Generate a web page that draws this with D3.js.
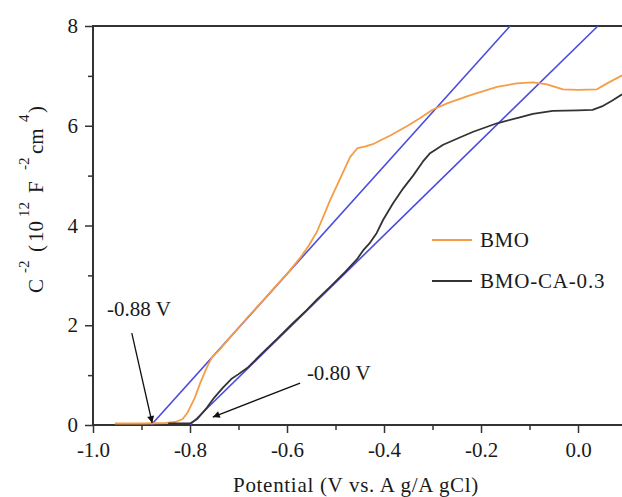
<!DOCTYPE html>
<html>
<head>
<meta charset="utf-8">
<script src="https://cdn.jsdelivr.net/npm/d3@7"></script>
<style>
  html, body { margin: 0; padding: 0; background: #fff; }
  svg { display: block; }
  text { font-family: "Liberation Serif", "Times New Roman", serif; fill: #1a1a1a; }
</style>
</head>
<body>
<svg id="chart" width="622" height="497"></svg>
<script>
// ---- data ----
const bmoV = [-0.955,-0.90,-0.85,-0.83,-0.815,-0.805,-0.79,-0.779,-0.765,-0.755,-0.74,-0.724,-0.70,-0.68,-0.65,-0.62,-0.60,-0.573,-0.555,-0.538,-0.511,-0.49,-0.470,-0.455,-0.44,-0.423,-0.405,-0.388,-0.353,-0.326,-0.30,-0.27,-0.223,-0.167,-0.126,-0.093,-0.064,-0.031,0.0,0.039,0.06,0.091];
const bmoC = [0.03,0.03,0.04,0.06,0.12,0.25,0.55,0.84,1.16,1.35,1.5,1.68,1.95,2.17,2.49,2.82,3.03,3.35,3.6,3.88,4.51,4.95,5.37,5.55,5.58,5.63,5.72,5.80,5.99,6.15,6.32,6.45,6.61,6.78,6.85,6.87,6.83,6.73,6.72,6.73,6.85,7.01];

const caV = [-0.845,-0.80,-0.785,-0.765,-0.75,-0.732,-0.715,-0.70,-0.68,-0.65,-0.62,-0.59,-0.56,-0.538,-0.51,-0.48,-0.456,-0.443,-0.43,-0.415,-0.402,-0.381,-0.36,-0.34,-0.32,-0.305,-0.278,-0.245,-0.216,-0.167,-0.12,-0.093,-0.052,0.0,0.03,0.052,0.07,0.091];
const caC = [0.03,0.03,0.12,0.35,0.55,0.75,0.92,1.02,1.16,1.45,1.73,2.02,2.30,2.52,2.78,3.07,3.32,3.5,3.64,3.85,4.11,4.45,4.75,5.0,5.28,5.45,5.62,5.76,5.88,6.05,6.17,6.24,6.3,6.31,6.32,6.4,6.5,6.63];

// linear fits (intercept on x-axis, point at top of plot)
const fit1V = [-0.88, -0.14];
const fit1C = [0, 8];
const fit2V = [-0.80, 0.041];
const fit2C = [0, 8];

const xTicks = [-1.0, -0.8, -0.6, -0.4, -0.2, 0.0];
const xTickLabels = ["-1.0", "-0.8", "-0.6", "-0.4", "-0.2", "0.0"];
const xMinor = [-0.9, -0.7, -0.5, -0.3, -0.1];
const yTicks = [0, 2, 4, 6, 8];
const yMinor = [1, 3, 5, 7];

const seriesNames = ["BMO", "BMO-CA-0.3"];
const seriesColors = ["#f59d45", "#333333"];
const fitColor = "#4b4bdc";

// annotations in data units
const annoLabels = ["-0.88 V", "-0.80 V"];
const annoText = [[-0.971, 2.18], [-0.559, 0.90]];
const annoArrow = [[[-0.920, 1.84], [-0.878, 0.04]], [[-0.573, 0.84], [-0.753, 0.16]]];

// y-axis title pieces: [text, superscript?, offset along the axis]
const yTitleParts = [["C", 0, 0], ["-2", 1, 20], ["(", 0, 41], ["10", 0, 51], ["12", 1, 76], ["F", 0, 100], ["-2", 1, 123], ["cm", 0, 139], ["4", 1, 171], [")", 0, 180]];

// ---- layout ----
const svg = d3.select("#chart");
const L = 93, R = 622, T = 26, B = 425;
const x = d3.scaleLinear().domain([-1.0, 0.0907]).range([L, R]);
const y = d3.scaleLinear().domain([0, 8]).range([B, T]);

const defs = svg.append("defs");
defs.append("clipPath").attr("id", "clip")
  .append("rect").attr("x", L).attr("y", T - 1).attr("width", R - L).attr("height", B - T + 2);
defs.append("marker").attr("id", "arrow").attr("viewBox", "0 0 10 10")
  .attr("refX", 10).attr("refY", 5).attr("markerWidth", 11).attr("markerHeight", 7)
  .attr("markerUnits", "userSpaceOnUse").attr("orient", "auto")
  .append("path").attr("d", "M0,0 L10,5 L0,10 Z").attr("fill", "#111");

const line = d3.line().x(d => x(d[0])).y(d => y(d[1]));

// axes
const axisColor = "#333";
const xa = svg.append("g").attr("transform", `translate(0,${B})`)
  .call(d3.axisBottom(x).tickValues(xTicks).tickFormat((d, i) => xTickLabels[i]).tickSize(8).tickSizeOuter(0));
xa.select(".domain").remove();
xa.selectAll(".tick line").attr("stroke", axisColor).attr("stroke-width", 1.5);
xa.selectAll(".tick text").attr("font-family", "Liberation Serif").attr("font-size", 21).attr("fill", "#1a1a1a").attr("dy", "0.85em").attr("y", 14);

const xm = svg.append("g").attr("transform", `translate(0,${B})`)
  .call(d3.axisBottom(x).tickValues(xMinor).tickFormat("").tickSize(5).tickSizeOuter(0));
xm.select(".domain").remove();
xm.selectAll(".tick line").attr("stroke", axisColor).attr("stroke-width", 1.5);

const ya = svg.append("g").attr("transform", `translate(${L},0)`)
  .call(d3.axisLeft(y).tickValues(yTicks).tickFormat(d3.format("d")).tickSize(8).tickSizeOuter(0));
ya.select(".domain").remove();
ya.selectAll(".tick line").attr("stroke", axisColor).attr("stroke-width", 1.5);
ya.selectAll(".tick text").attr("font-family", "Liberation Serif").attr("font-size", 21).attr("fill", "#1a1a1a").attr("x", -15);

const ym = svg.append("g").attr("transform", `translate(${L},0)`)
  .call(d3.axisLeft(y).tickValues(yMinor).tickFormat("").tickSize(5).tickSizeOuter(0));
ym.select(".domain").remove();
ym.selectAll(".tick line").attr("stroke", axisColor).attr("stroke-width", 1.5);

// frame lines
svg.append("line").attr("x1", L).attr("x2", R).attr("y1", B).attr("y2", B).attr("stroke", axisColor).attr("stroke-width", 2);
svg.append("line").attr("x1", L).attr("x2", R).attr("y1", T).attr("y2", T).attr("stroke", axisColor).attr("stroke-width", 2);
svg.append("line").attr("x1", L).attr("x2", L).attr("y1", T - 1).attr("y2", B + 1).attr("stroke", axisColor).attr("stroke-width", 2);

// plot content (over the axis lines)
const g = svg.append("g").attr("clip-path", "url(#clip)");
[[fit1V, fit1C], [fit2V, fit2C]].forEach(([vs, cs]) => {
  g.append("path").datum(vs.map((v, i) => [v, cs[i]]))
    .attr("d", line).attr("fill", "none").attr("stroke", fitColor).attr("stroke-width", 1.6);
});
[[bmoV, bmoC], [caV, caC]].forEach(([vs, cs], k) => {
  g.append("path").datum(vs.map((v, i) => [v, cs[i]]))
    .attr("d", line).attr("fill", "none").attr("stroke", seriesColors[k])
    .attr("stroke-width", 1.8).attr("stroke-linejoin", "round");
});

// axis titles
svg.append("text").attr("x", 233).attr("y", 492).attr("font-size", 21)
  .attr("letter-spacing", 0.7)
  .text("Potential (V vs. A g/A gCl)");

const yt = svg.append("text").attr("transform", "translate(43,293) rotate(-90)");
yTitleParts.forEach(([t, sup, off]) => {
  yt.append("tspan").attr("x", off).attr("y", sup ? -14 : 0)
    .attr("font-size", sup ? 15 : 21).text(t);
});

// legend
const legY = [240, 281];
seriesNames.forEach((n, i) => {
  svg.append("line").attr("x1", 432).attr("x2", 472).attr("y1", legY[i]).attr("y2", legY[i])
    .attr("stroke", seriesColors[i]).attr("stroke-width", 1.8);
  svg.append("text").attr("x", 480).attr("y", legY[i] + 7).attr("font-size", 21)
    .attr("letter-spacing", i === 1 ? 0.8 : 0.5).text(n);
});

// annotations
annoLabels.forEach((t, i) => {
  svg.append("text").attr("x", x(annoText[i][0])).attr("y", y(annoText[i][1]))
    .attr("font-size", 21).text(t);
  const a = annoArrow[i];
  svg.append("line").attr("x1", x(a[0][0])).attr("y1", y(a[0][1]))
    .attr("x2", x(a[1][0])).attr("y2", y(a[1][1]))
    .attr("stroke", "#111").attr("stroke-width", 1.3).attr("marker-end", "url(#arrow)");
});
</script>
</body>
</html>
